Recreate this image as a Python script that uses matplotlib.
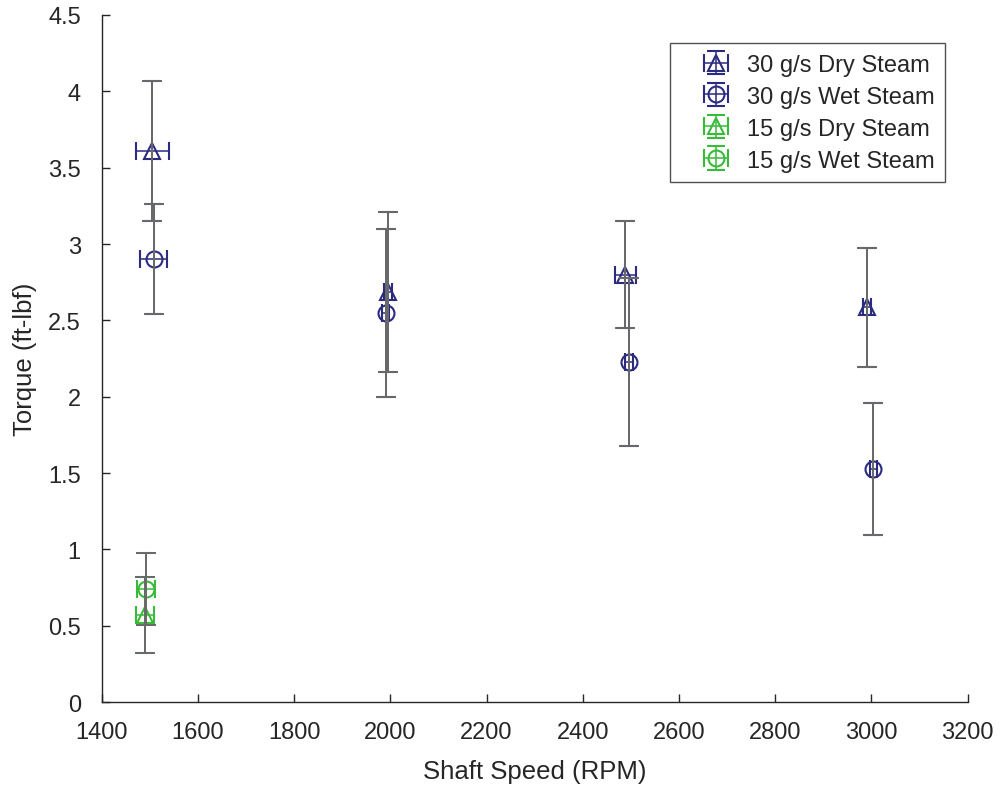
import matplotlib
matplotlib.use("Agg")
import matplotlib.pyplot as plt

plt.rcParams['font.family'] = ['Liberation Sans', 'DejaVu Sans']

# Shaft speed (RPM), torque (ft-lbf) and their uncertainties per test series
dry30_rpm = [1505, 1995, 2488, 2990]
dry30_torque = [3.61, 2.685, 2.80, 2.585]
dry30_terr = [0.46, 0.525, 0.35, 0.39]
dry30_rerr = [34, 8, 22, 8]

wet30_rpm = [1508, 1990, 2496, 3004]
wet30_torque = [2.90, 2.55, 2.23, 1.526]
wet30_terr = [0.36, 0.55, 0.55, 0.43]
wet30_rerr = [28, 8, 8, 8]

dry15_rpm = [1490]
dry15_torque = [0.57]
dry15_terr = [0.25]
dry15_rerr = [18]

wet15_rpm = [1492]
wet15_torque = [0.74]
wet15_terr = [0.235]
wet15_rerr = [18]

series = [
    ("30 g/s Dry Steam", dry30_rpm, dry30_torque, dry30_terr, dry30_rerr, "^", "#2b2b80"),
    ("30 g/s Wet Steam", wet30_rpm, wet30_torque, wet30_terr, wet30_rerr, "o", "#2b2b80"),
    ("15 g/s Dry Steam", dry15_rpm, dry15_torque, dry15_terr, dry15_rerr, "^", "#38bb38"),
    ("15 g/s Wet Steam", wet15_rpm, wet15_torque, wet15_terr, wet15_rerr, "o", "#38bb38"),
]

fig = plt.figure(figsize=(10.05, 8.04), dpi=100)
ax = fig.add_axes([0.1012, 0.1256, 0.8617, 0.8545])

for label, rpm, tq, terr, rerr, mk, col in series:
    ax.errorbar(rpm, tq, yerr=terr, xerr=rerr, fmt=mk, color=col, ecolor=col,
                mfc='none', mec=col, ms=11.5, mew=1.5, elinewidth=1.1,
                capsize=6.5, capthick=1.1, label=label, zorder=2)
    ax.errorbar(rpm, tq, yerr=terr, fmt='none', ecolor='#6a6a6a',
                elinewidth=1.4, capsize=7, capthick=1.4, zorder=3)

ax.set_xlim(1400, 3200)
ax.set_ylim(0, 4.5)
ax.set_xticks(range(1400, 3201, 200))
ax.set_yticks([0, 0.5, 1, 1.5, 2, 2.5, 3, 3.5, 4, 4.5])
ax.set_yticklabels(['0', '0.5', '1', '1.5', '2', '2.5', '3', '3.5', '4', '4.5'])

for side in ('top', 'right'):
    ax.spines[side].set_visible(False)
for side in ('left', 'bottom'):
    ax.spines[side].set_color('#262626')
    ax.spines[side].set_linewidth(1.0)

ax.tick_params(direction='in', length=6, width=1.0, colors='#262626',
               labelsize=17, labelcolor='#262626')
ax.tick_params(axis='x', pad=14)
ax.tick_params(axis='y', pad=15)

ax.set_xlabel('Shaft Speed (RPM)', fontsize=18.5, color='#262626', labelpad=11)
ax.set_ylabel('Torque (ft-lbf)', fontsize=18.5, color='#262626', labelpad=8)

leg = ax.legend(loc='upper right', bbox_to_anchor=(0.974, 0.959), borderaxespad=0,
                fontsize=17, frameon=True, fancybox=False, handlelength=3.0,
                handletextpad=-0.2, labelspacing=0.42, borderpad=0.45)
leg.get_frame().set_edgecolor('#262626')
leg.get_frame().set_linewidth(1.0)
for t in leg.get_texts():
    t.set_color('#262626')

fig.savefig('out.png', dpi=100, facecolor='white')
